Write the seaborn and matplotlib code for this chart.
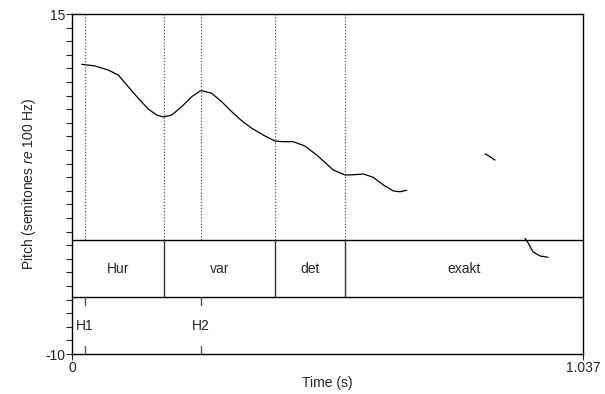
import matplotlib
matplotlib.use("Agg")
import matplotlib.pyplot as plt
import seaborn as sns
import pandas as pd
import numpy as np

# ---- data ----
seg1_t = [0.0197, 0.0467, 0.0737, 0.0940, 0.1142, 0.1345, 0.1548, 0.1719, 0.1853, 0.2023,
          0.2226, 0.2429, 0.2618, 0.2835, 0.3038, 0.3241, 0.3444, 0.3647, 0.3916, 0.4119,
          0.4288, 0.4491, 0.4728, 0.4966, 0.5130, 0.5302, 0.5540, 0.5708, 0.5911, 0.6114,
          0.6317, 0.6520, 0.6656, 0.6792]
seg1_st = [11.30, 11.18, 10.88, 10.51, 9.65, 8.80, 8.01, 7.57, 7.43, 7.57,
           8.18, 8.92, 9.38, 9.17, 8.55, 7.82, 7.15, 6.60, 6.03, 5.66,
           5.61, 5.61, 5.29, 4.63, 4.10, 3.53, 3.16, 3.18, 3.24, 2.99,
           2.43, 1.99, 1.93, 2.04]
seg2_t = [0.8381, 0.8462, 0.8584]
seg2_st = [4.71, 4.56, 4.26]
seg3_t = [0.9192, 0.9260, 0.9354, 0.9497, 0.9659]
seg3_st = [-1.49, -1.85, -2.48, -2.79, -2.89]

words = ["Hur", "var", "det", "exakt"]
word_bounds = [0.0, 0.186, 0.412, 0.554, 1.037]
tone_labels = ["H1", "H2"]
tone_times = [0.0264, 0.262]

x_min, x_max = 0.0, 1.037
y_min, y_max = -10, 15
tier_top = -1.62
tier_mid = -5.81

df = pd.DataFrame({
    "t": seg1_t + seg2_t + seg3_t,
    "st": seg1_st + seg2_st + seg3_st,
    "seg": [1] * len(seg1_t) + [2] * len(seg2_t) + [3] * len(seg3_t),
})

sns.set_style("ticks")
plt.rcParams["font.family"] = ["Liberation Sans", "DejaVu Sans"]
plt.rcParams["mathtext.fontset"] = "custom"
plt.rcParams["mathtext.it"] = "Liberation Sans:italic"
plt.rcParams["mathtext.rm"] = "Liberation Sans"

fs = 10
fig = plt.figure(figsize=(6.05, 3.94), dpi=100)
ax = fig.add_axes([72 / 605, 1 - 354 / 394, 511 / 605, 340 / 394])

sns.lineplot(data=df, x="t", y="st", units="seg", estimator=None, sort=False,
             color="black", linewidth=0.9, ax=ax, legend=False,
             solid_joinstyle="round", solid_capstyle="round")

ax.set_xlim(x_min, x_max)
ax.set_ylim(y_min, y_max)

# dotted lines in pitch area
for t in sorted(set(word_bounds[1:-1] + tone_times)):
    ax.plot([t, t], [tier_top, y_max], linestyle=(0, (1, 1.5)), color="#555555", linewidth=0.9)

# tier lines
ax.axhline(tier_top, color="black", linewidth=1.0)
ax.axhline(tier_mid, color="black", linewidth=1.0)

# word tier
for b in word_bounds[1:-1]:
    ax.plot([b, b], [tier_mid, tier_top], color="#333333", linewidth=1.0)
for w, a, b in zip(words, word_bounds[:-1], word_bounds[1:]):
    ax.text((a + b) / 2, (tier_top + tier_mid) / 2, w, ha="center", va="center", fontsize=fs)

# tone tier
tick_len = 0.6
for lab, t in zip(tone_labels, tone_times):
    ax.plot([t, t], [tier_mid, tier_mid - tick_len], color="#555555", linewidth=1.0)
    ax.plot([t, t], [y_min, y_min + tick_len], color="#555555", linewidth=1.0)
    ax.text(t, (tier_mid + y_min) / 2, lab, ha="center", va="center", fontsize=fs)

ax.set_yticks(np.arange(y_min, y_max + 1, 1))
ax.set_yticklabels([str(v) if v in (y_min, y_max) else "" for v in range(y_min, y_max + 1)])
ax.set_xticks([x_min, x_max])
ax.set_xticklabels(["0", "1.037"])
ax.tick_params(axis="both", direction="out", length=4, width=0.8, labelsize=fs, pad=1)
for s in ax.spines.values():
    s.set_linewidth(1.0)
    s.set_color("black")

ax.set_xlabel("Time (s)", fontsize=fs, labelpad=1)
ax.set_ylabel(r"Pitch (semitones $\it{re}$ 100 Hz)", fontsize=fs, labelpad=5)

fig.savefig("out.png", dpi=100)
